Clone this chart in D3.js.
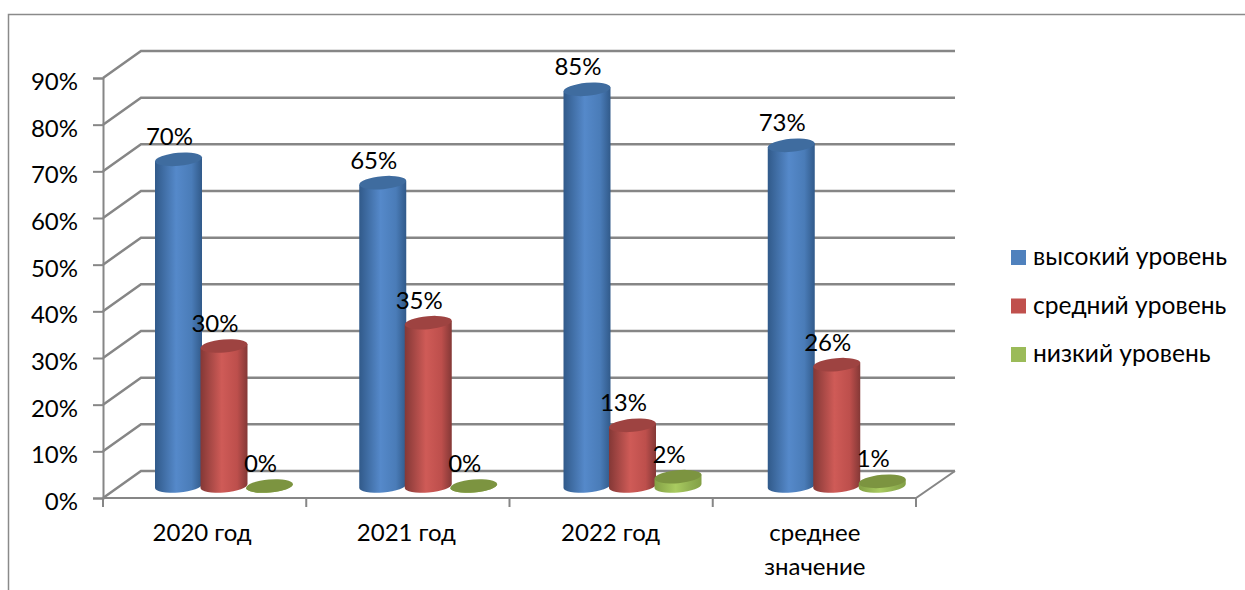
<!DOCTYPE html>
<html>
<head>
<meta charset="utf-8">
<script src="https://d3js.org/d3.v7.min.js"></script>
<style>
  html, body { margin: 0; padding: 0; background: #fff; }
  svg { display: block; }
  text { font-family: "Lato", "Open Sans", sans-serif; fill: #000; }
</style>
</head>
<body>
<div id="content"></div>
<script>
// Chart data.
var categories = ['2020 год', '2021 год', '2022 год', 'среднее значение'];
var seriesNames = ['высокий уровень', 'средний уровень', 'низкий уровень'];
var highValues = [70, 65, 85, 73];
var midValues = [30, 35, 13, 26];
var lowValues = [0, 0, 2, 1];
var yTicks = [0, 10, 20, 30, 40, 50, 60, 70, 80, 90];

var seriesValues = [highValues, midValues, lowValues];

// Side gradient stops and top colour for each series.
var colors = [
  {id: 'cylBlue', swatch: '#4f81bd', top: '#3f6c9f', edge: '#315a8a', mid: '#5589ca', side: '#4a7cb8'},
  {id: 'cylRed', swatch: '#c0504d', top: '#9e4341', edge: '#843836', mid: '#cf5b57', side: '#bd4f4c'},
  {id: 'cylGreen', swatch: '#9bbb59', top: '#7c9440', edge: '#83a045', mid: '#a9cb60', side: '#8fae50'}
];

var svg = d3.select('#content')
              .append('svg')
              .attr('width', 1245)
              .attr('height', 590);

var defs = svg.append('defs');
colors.forEach(function(c) {
  var grad = defs.append('linearGradient').attr('id', c.id);
  grad.append('stop').attr('offset', '0%').attr('stop-color', c.edge);
  grad.append('stop').attr('offset', '45%').attr('stop-color', c.mid);
  grad.append('stop').attr('offset', '78%').attr('stop-color', c.side);
  grad.append('stop').attr('offset', '100%').attr('stop-color', c.edge);
});

// Outer frame, only the top and left edges show in the crop.
svg.append('path')
    .attr('d', 'M8.5,590V14.5H1245')
    .attr('fill', 'none')
    .attr('stroke', '#8a8a8a')
    .attr('stroke-width', 1.5);

// Scales.
var plot = {left: 103, right: 916, bottom: 498, top: 78, depthX: 38, depthY: 27};
var scaleX = d3.scaleBand().domain(categories).range([plot.left, plot.right]);
var scaleBars = d3.scaleBand().domain(categories).range([plot.left, 920]);
var scaleY = d3.scaleLinear().domain([0, 90]).range([plot.bottom, plot.top]);
var scaleSeries = d3.scaleBand().domain(d3.range(3)).range([52, 188.5]);

var gridColor = '#868686';
var fontSize = 24;

// Back wall gridlines with their diagonals on the side wall.
svg.append('g')
    .selectAll('path')
    .data(yTicks)
    .enter()
    .append('path')
    .attr('d', function(d) {
      var y = scaleY(d);
      return 'M' + plot.left + ',' + y + 'L' + (plot.left + plot.depthX) + ',' + (y - plot.depthY) +
             'H' + (plot.right + plot.depthX + 1);
    })
    .attr('fill', 'none')
    .attr('stroke', gridColor)
    .attr('stroke-width', 2.5);

// Floor, front edge and right diagonal.
svg.append('path')
    .attr('d', 'M' + plot.left + ',' + plot.bottom + 'H' + plot.right +
               'L' + (plot.right + plot.depthX + 1) + ',' + (plot.bottom - plot.depthY))
    .attr('fill', 'none')
    .attr('stroke', gridColor)
    .attr('stroke-width', 2);

// Y axis.
var axisY = svg.append('g')
    .attr('transform', 'translate(' + plot.left + ',0)')
    .call(d3.axisLeft(scaleY).tickValues(yTicks)
              .tickFormat(function(d) { return d + '%'; })
              .tickSize(10).tickPadding(15));
axisY.selectAll('path, line').attr('stroke', gridColor).attr('stroke-width', 2);
axisY.selectAll('text')
    .attr('font-size', fontSize)
    .attr('dy', '0.48em')
    .style('font-family', '"Lato", "Open Sans", sans-serif');

// X axis.
var tickPositions = categories.map(function(c) { return scaleX(c); }).concat([plot.right]);
svg.append('g')
    .selectAll('line')
    .data(tickPositions)
    .enter()
    .append('line')
    .attr('x1', function(d) { return d; })
    .attr('x2', function(d) { return d; })
    .attr('y1', plot.bottom)
    .attr('y2', plot.bottom + 9)
    .attr('stroke', gridColor)
    .attr('stroke-width', 2);

var catLabels = svg.append('g')
    .selectAll('text')
    .data(categories)
    .enter()
    .append('text')
    .attr('text-anchor', 'middle')
    .attr('font-size', fontSize)
    .attr('transform', function(d) {
      return 'translate(' + (scaleBars(d) + scaleBars.bandwidth() / 2 - 3) + ',' + (plot.bottom + 43) + ')';
    });
catLabels.selectAll('tspan')
    .data(function(d) { return d === 'среднее значение' ? d.split(' ') : [d]; })
    .enter()
    .append('tspan')
    .attr('x', 0)
    .attr('dy', function(d, i) { return i ? 34 : 0; })
    .text(function(d) { return d; });

// Cylinder side between two tilted ellipses.
var cylW = 47, cylRy = 6.5, tilt = -5, baseShift = 12, tiltRise = 2;
function sidePath(cx, yTop, yBase) {
  var rx = cylW / 2;
  return 'M' + (cx - rx) + ',' + (yTop + tiltRise) +
         'L' + (cx - rx) + ',' + (yBase + tiltRise) +
         'A' + rx + ',' + cylRy + ' ' + tilt + ' 0 0 ' + (cx + rx) + ',' + (yBase - tiltRise) +
         'L' + (cx + rx) + ',' + (yTop - tiltRise) + 'Z';
}

// Draw the cylinders in order, so each overlaps the one before it.
var marks = [];
categories.forEach(function(cat, ci) {
  seriesValues.forEach(function(vals, si) {
    marks.push({cat: cat, si: si, value: vals[ci]});
  });
});

function centerX(d) { return scaleBars(d.cat) + scaleSeries(d.si) + cylW / 2; }

var cyl = svg.append('g')
    .selectAll('g')
    .data(marks)
    .enter()
    .append('g');

cyl.append('path')
    .attr('d', function(d) {
      return sidePath(centerX(d), scaleY(d.value) - baseShift, plot.bottom - baseShift);
    })
    .attr('fill', function(d) { return 'url(#' + colors[d.si].id + ')'; });

cyl.append('ellipse')
    .attr('rx', cylW / 2)
    .attr('ry', cylRy)
    .attr('transform', function(d) {
      return 'translate(' + centerX(d) + ',' + (scaleY(d.value) - baseShift) + ') rotate(' + tilt + ')';
    })
    .attr('fill', function(d) { return colors[d.si].top; });

// Data labels.
svg.append('g')
    .selectAll('text')
    .data(marks)
    .enter()
    .append('text')
    .attr('text-anchor', 'middle')
    .attr('font-size', fontSize)
    .attr('x', function(d) { return centerX(d) - 9; })
    .attr('y', function(d) { return scaleY(d.value) - 26; })
    .text(function(d) { return d.value + '%'; });

// Legend.
var scaleLegend = d3.scalePoint().domain(d3.range(3)).range([257, 354]);
var legend = svg.append('g')
    .selectAll('g')
    .data(seriesNames)
    .enter()
    .append('g')
    .attr('transform', function(d, i) { return 'translate(1011,' + scaleLegend(i) + ')'; });
legend.append('rect')
    .attr('y', -7)
    .attr('width', 15)
    .attr('height', 15)
    .attr('fill', function(d, i) { return colors[i].swatch; });
legend.append('text')
    .attr('x', 22)
    .attr('y', 8)
    .attr('font-size', 24.6)
    .text(function(d) { return d; });
</script>
</body>
</html>
